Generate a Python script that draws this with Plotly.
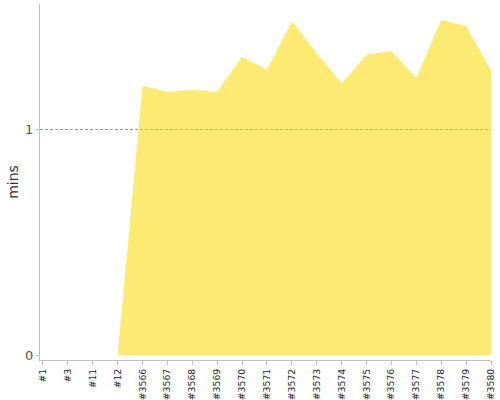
import plotly.graph_objects as go

builds = ["#1", "#3", "#11", "#12", "#3566", "#3567", "#3568", "#3569", "#3570",
          "#3571", "#3572", "#3573", "#3574", "#3575", "#3576", "#3577", "#3578",
          "#3579", "#3580"]
mins = [0, 0, 0, 0, 1.190, 1.164, 1.173, 1.164, 1.319,
        1.262, 1.476, 1.335, 1.201, 1.329, 1.345, 1.226, 1.482,
        1.456, 1.258]
y_ticks = [0, 1]
grid_ticks = [1]

y_range = [-0.022, 1.553]

fig = go.Figure()
# invisible carrier on the base y axis (draws the dashed grid beneath the area)
fig.add_trace(go.Scatter(x=builds, y=mins, mode="none", hoverinfo="skip",
                         showlegend=False, yaxis="y"))
# the area itself on the overlaying axis
fig.add_trace(go.Scatter(
    x=builds, y=mins, mode="none", fill="tozeroy", yaxis="y2",
    fillcolor="rgba(249,217,0,0.55)", hoverinfo="x+y", showlegend=False,
))

fig.update_layout(
    width=500, height=400,
    margin=dict(l=40, r=9, t=4, b=40),
    paper_bgcolor="white", plot_bgcolor="white",
    showlegend=False,
    font=dict(family="DejaVu Sans", color="#333"),
    xaxis=dict(
        type="category", range=[-0.12, 18], automargin=False,
        showline=True, linecolor="#c0c0c0", linewidth=1,
        ticks="outside", ticklen=4, tickcolor="#c0c0c0",
        tickangle=-90, tickfont=dict(size=9.3, color="#222"),
        showgrid=False, zeroline=False,
    ),
    yaxis=dict(
        range=y_range, tickvals=grid_ticks, automargin=False,
        showticklabels=False, ticks="", showline=False,
        showgrid=True, gridcolor="#999", gridwidth=1, griddash="3px,2px",
        zeroline=False,
    ),
    yaxis2=dict(
        range=y_range, tickvals=y_ticks, automargin=True,
        overlaying="y", side="left",
        showline=True, linecolor="#c0c0c0", linewidth=1,
        ticks="outside", ticklen=3, tickcolor="#c0c0c0",
        tickfont=dict(size=13, color="#555"),
        showgrid=False, zeroline=False,
        title=dict(text="mins", font=dict(size=14, color="#333"), standoff=3),
    ),
)

fig.write_html("out.html", config={"displayModeBar": False},
               post_script="document.body.style.margin='0';")
